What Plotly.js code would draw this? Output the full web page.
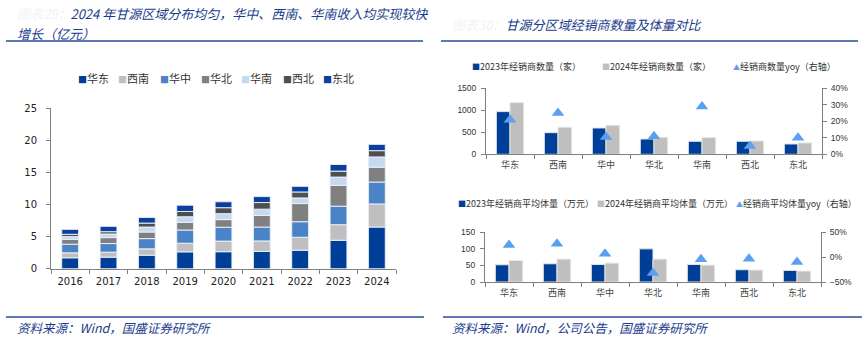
<!DOCTYPE html>
<html><head><meta charset="utf-8">
<script src="https://cdn.plot.ly/plotly-3.0.1.min.js"></script>
<style>html,body{margin:0;padding:0;background:#fff;}#chart{width:866px;height:343px;}</style>
</head><body><div id="chart"></div>
<script>
// ---------- data ----------
const years = ['2016','2017','2018','2019','2020','2021','2022','2023','2024'];
const regionNames = ['华东','西南','华中','华北','华南','西北','东北'];
const revHuadong  = [1.70,1.80,2.11,2.63,2.65,2.70,2.89,4.43,6.49];
const revXinan    = [0.77,0.78,0.98,1.34,1.65,1.63,2.01,2.43,3.61];
const revHuazhong = [1.34,1.34,1.60,2.06,2.16,2.16,2.42,2.88,3.41];
const revHuabei   = [0.78,0.93,1.03,1.19,1.19,1.81,2.83,3.25,2.31];
const revHuanan   = [0.41,0.56,0.77,0.87,0.93,0.98,0.88,1.29,1.60];
const revXibei    = [0.36,0.36,0.62,0.83,0.93,1.03,0.93,0.93,0.98];
const revDongbei  = [0.77,0.83,0.88,0.98,0.92,0.93,0.88,1.03,0.98];

const areaCats   = ['华东','西南','华中','华北','华南','西北','东北'];
const dealers2023 = [970,492,598,348,295,295,235];
const dealers2024 = [1174,614,659,386,380,303,258];
const dealersYoy  = [0.21,0.25,0.105,0.11,0.29,0.05,0.10];
const avg2023 = [52,55,53,100,53,37,35];
const avg2024 = [65,69,57,69,51,36,33];
const avgYoy  = [0.245,0.27,0.07,-0.32,-0.04,-0.03,-0.10];

const dealerNames = ['2023年经销商数量（家）','2024年经销商数量（家）','经销商数量yoy（右轴）'];
const avgNames = ['2023年经销商平均体量（万元）','2024年经销商平均体量（万元）','经销商平均体量yoy（右轴）'];

// ---------- styles ----------
const revSeries = [revHuadong,revXinan,revHuazhong,revHuabei,revHuanan,revXibei,revDongbei];
const revColors = ['#003f98','#bfbfbf','#4a84c6','#808080','#c5d9f1','#4f4f4f','#0a3fa0'];
const BLUE = '#003f98', GREY = '#bfbfbf', TRI = '#5b9ff0';
const W = 866, H = 343;
const px = v => v / W, py = v => 1 - v / H;
const CJK = 'Noto Sans CJK SC';
const TXT = '#1a3c8c';
const GHOST = '#f1f3f8';

const traces = [];
// stacked revenue bars (overlay mode with cumulative base)
let cum = years.map(() => 0);
revSeries.forEach((vals, i) => {
  traces.push({type:'bar', x:years, y:vals, base:cum.slice(), name:regionNames[i],
    xaxis:'x', yaxis:'y', width:0.44, offset:-0.22,
    marker:{color:revColors[i], line:{color:'rgba(235,240,248,0.95)', width:1}}, hoverinfo:'x+y+name'});
  cum = cum.map((c, k) => c + vals[k]);
});
// dealer counts
traces.push({type:'bar', x:areaCats, y:dealers2023, name:dealerNames[0], xaxis:'x2', yaxis:'y2',
  width:0.285, offset:-0.285, marker:{color:BLUE, line:{color:'#e6e6e6', width:1}}});
traces.push({type:'bar', x:areaCats, y:dealers2024, name:dealerNames[1], xaxis:'x2', yaxis:'y2',
  width:0.285, offset:0, marker:{color:GREY, line:{color:'#e6e6e6', width:1}}});
traces.push({type:'scatter', mode:'markers', x:areaCats, y:dealersYoy, name:dealerNames[2], xaxis:'x2', yaxis:'y3',
  marker:{symbol:'triangle-up', size:11, color:TRI}});
// average volume
traces.push({type:'bar', x:areaCats, y:avg2023, name:avgNames[0], xaxis:'x3', yaxis:'y4',
  width:0.285, offset:-0.285, marker:{color:BLUE, line:{color:'#e6e6e6', width:1}}});
traces.push({type:'bar', x:areaCats, y:avg2024, name:avgNames[1], xaxis:'x3', yaxis:'y4',
  width:0.285, offset:0, marker:{color:GREY, line:{color:'#e6e6e6', width:1}}});
traces.push({type:'scatter', mode:'markers', x:areaCats, y:avgYoy, name:avgNames[2], xaxis:'x3', yaxis:'y5',
  marker:{symbol:'triangle-up', size:11, color:TRI}});

const axBase = {showline:true, linecolor:'#808080', linewidth:1, ticks:'outside', ticklen:4,
  tickcolor:'#808080', showgrid:false, zeroline:false, fixedrange:true};
const smallTick = {family:'Liberation Sans', size:8.5, color:'#333'};

const layout = {
  width:W, height:H, margin:{l:0,r:0,t:0,b:0}, autosize:false,
  paper_bgcolor:'#fff', plot_bgcolor:'rgba(0,0,0,0)', barmode:'overlay', showlegend:false,
  font:{family:'DejaVu Sans', size:10, color:'#222'},
  xaxis:Object.assign({}, axBase, {domain:[px(51),px(396)], anchor:'y', type:'category',
    range:[-0.5,8.5], tickson:'boundaries', ticklabelstandoff:3,
    tickfont:{family:'DejaVu Sans', size:10, color:'#222'}}),
  yaxis:Object.assign({}, axBase, {domain:[py(268.7),py(108.3)], anchor:'x', range:[0,25], dtick:5,
    ticklabelstandoff:7, tickfont:{family:'DejaVu Sans', size:10, color:'#222'}}),
  xaxis2:Object.assign({}, axBase, {domain:[px(486),px(822)], anchor:'y2', type:'category',
    range:[-0.5,6.5], tickson:'boundaries', ticklabelstandoff:2,
    tickfont:{family:CJK, size:9, color:'#444'}}),
  yaxis2:Object.assign({}, axBase, {domain:[py(154.3),py(88.3)], anchor:'x2', range:[0,1500], dtick:500,
    ticklabelstandoff:3, tickfont:smallTick}),
  yaxis3:Object.assign({}, axBase, {overlaying:'y2', side:'right', anchor:'x2', range:[0,0.4], dtick:0.1,
    tickformat:'.0%', ticklabelstandoff:2, tickfont:smallTick}),
  xaxis3:Object.assign({}, axBase, {domain:[px(485),px(821)], anchor:'y4', type:'category',
    range:[-0.5,6.5], tickson:'boundaries', ticklabelstandoff:2,
    tickfont:{family:CJK, size:9, color:'#444'}}),
  yaxis4:Object.assign({}, axBase, {domain:[py(282),py(232.3)], anchor:'x3', range:[0,150], dtick:50,
    ticklabelstandoff:3, tickfont:smallTick}),
  yaxis5:Object.assign({}, axBase, {overlaying:'y4', side:'right', anchor:'x3', range:[-0.5,0.5], dtick:0.5,
    tickformat:'.0%', ticklabelstandoff:2, tickfont:smallTick}),
  shapes:[
    {type:'line', xref:'paper', yref:'paper', x0:px(6), x1:px(423), y0:py(41), y1:py(41), line:{color:'#2a4c9c', width:1.6}},
    {type:'line', xref:'paper', yref:'paper', x0:px(441), x1:px(858), y0:py(41), y1:py(41), line:{color:'#2a4c9c', width:1.6}},
    {type:'line', xref:'paper', yref:'paper', x0:px(6), x1:px(424), y0:py(317), y1:py(317), line:{color:'#2a4c9c', width:1.6}},
    {type:'line', xref:'paper', yref:'paper', x0:px(443), x1:px(862), y0:py(317), y1:py(317), line:{color:'#2a4c9c', width:1.6}}
  ],
  annotations:[]
};

function note(text, x, y, size, color, family) {
  layout.annotations.push({text:text, xref:'paper', yref:'paper', x:px(x), y:py(y),
    xanchor:'left', yanchor:'middle', align:'left', showarrow:false, borderpad:0, borderwidth:0,
    font:{family:family || CJK, size:size, color:color}});
}
// titles
note('<i><span style="color:' + GHOST + '">图表29：</span>2024 年甘源区域分布均匀，华中、西南、华南收入均实现较快</i>', 17, 13.5, 13, TXT);
note('<i>增长（亿元）</i>', 17, 33, 13, TXT);
note('<i><span style="color:' + GHOST + '">图表30：</span>甘源分区域经销商数量及体量对比</i>', 452, 24, 13, TXT);
// footers
note('<i>资料来源：Wind，国盛证券研究所</i>', 17, 327, 12.5, TXT);
note('<i>资料来源：Wind，公司公告，国盛证券研究所</i>', 452, 327, 12.5, TXT);

// legends (as text rows)
const leftLegX = [78,118,160,201,241,283,323];
regionNames.forEach((n, i) => note('<span style="color:' + revColors[i] + ';font-size:9px">■</span>' + n, leftLegX[i], 78, 11, '#333'));
const rtLegX = [472,602,733];
note('<span style="color:' + BLUE + ';font-size:8px">■</span>' + dealerNames[0], rtLegX[0], 67, 9, '#333');
note('<span style="color:' + GREY + ';font-size:8px">■</span>' + dealerNames[1], rtLegX[1], 67, 9, '#333');
note('<span style="color:' + TRI + ';font-size:7px">▲</span>' + dealerNames[2], rtLegX[2], 67, 9, '#333');
const rbLegX = [458,597,736];
note('<span style="color:' + BLUE + ';font-size:8px">■</span>' + avgNames[0], rbLegX[0], 203, 9, '#333');
note('<span style="color:' + GREY + ';font-size:8px">■</span>' + avgNames[1], rbLegX[1], 203, 9, '#333');
note('<span style="color:' + TRI + ';font-size:7px">▲</span>' + avgNames[2], rbLegX[2], 203, 9, '#333');

Plotly.newPlot('chart', traces, layout, {displayModeBar:false, staticPlot:true});
</script></body></html>
